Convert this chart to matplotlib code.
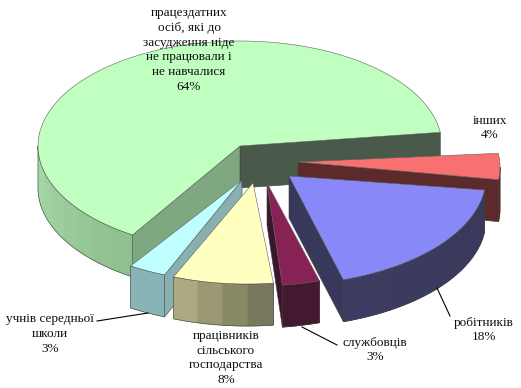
import numpy as np
import matplotlib
matplotlib.use("Agg")
import matplotlib.pyplot as plt
from matplotlib.colors import to_rgb
from matplotlib.patches import Polygon

# Data, counter-clockwise from the right edge of the big slice
labels = [
    "працездатних\nосіб, які до\nзасудження ніде\nне працювали і\nне навчалися\n64%",
    "учнів середньої\nшколи\n3%",
    "працівників\nсільського\nгосподарства\n8%",
    "службовців\n3%",
    "робітників\n18%",
    "інших\n4%",
]
shares = [64, 3, 8, 3, 18, 4]

# Slice styles, same order
top_colors = ["#C0FFC0", "#C0FFFF", "#FFFFC0", "#882255", "#8888F8", "#F87070"]
side_left = ["#A8D8A8", "#88B4B8", "#ABAA80", "#44182E", "#3C3C62", "#5C2A2A"]
side_right = ["#8FC090", "#8AB0B0", "#78785C", "#44182E", "#38385A", "#5C2A2A"]
face_start = ["#4A5A4A", "#80A8A8", "#ABAA80", "#3C142C", "#38385A", "#5C2A2A"]
face_end = ["#80A880", "#88B0B0", "#ABAA80", "#44182E", "#38385A", "#5C2A2A"]
centers = [(240, 146), (238, 177), (247, 179), (256, 181), (278, 177), (298, 167)]
apexes = [(240, 146), (242, 180), (253, 183), (267, 183), (289, 176), (298, 162)]
scales = [1.0, 1.0, 1.0, 1.0, 1.03, 1.0]
label_xy = [(189, 50), (50, 334), (226, 358), (375, 350), (484, 330), (490, 128)]

RX = 202
RY = 105
DEPTH = 42
START_ANGLE = 7.5
BAND_DEG = 7
EDGE = "#404040"

# Leader lines: (x0, x1), (y0, y1)
leaders = [((97, 148), (321, 313)), ((302, 337), (327, 345)), ((437, 450), (288, 316))]


def mix(c0, c1, f):
    return np.array(to_rgb(c0)) * (1 - f) + np.array(to_rgb(c1)) * f


def rim(i, theta):
    t = np.radians(theta)
    cx, cy = centers[i]
    return np.column_stack((cx + scales[i] * RX * np.cos(t), cy - scales[i] * RY * np.sin(t)))


def draw_face(ax, apex, point, color):
    quad = [apex, point, (point[0], point[1] + DEPTH), (apex[0], apex[1] + DEPTH)]
    ax.add_patch(Polygon(quad, closed=True, fc=color, ec=EDGE, lw=0.4))


def draw_slice(ax, i, t1, t2):
    apex = apexes[i]
    p1 = rim(i, np.array([t1]))[0]
    p2 = rim(i, np.array([t2]))[0]

    # cut faces, only those turned to the viewer
    if np.cos(np.radians(t1)) > 0:
        draw_face(ax, apex, p1, face_start[i])
    if np.cos(np.radians(t2)) < 0:
        draw_face(ax, apex, p2, face_end[i])

    # outer wall in flat bands, front half only
    lo, hi = max(t1, 180), min(t2, 360)
    if hi > lo:
        n = max(1, int((hi - lo) / BAND_DEG))
        edges = np.linspace(lo, hi, n + 1)
        for k in range(n):
            arc = rim(i, np.linspace(edges[k], edges[k + 1], 6))
            wall = np.vstack((arc, arc[::-1] + [0, DEPTH]))
            col = mix(side_left[i], side_right[i], k / max(1, n - 1))
            ax.add_patch(Polygon(wall, closed=True, fc=col, ec=col, lw=0.6))
        arc = rim(i, np.linspace(lo, hi, 80))
        outline = np.vstack((arc, arc[::-1] + [0, DEPTH]))
        ax.add_patch(Polygon(outline, closed=True, fill=False, ec=EDGE, lw=0.4))

    # top
    arc = rim(i, np.linspace(t1, t2, 150))
    top = np.vstack(([apex], arc))
    ax.add_patch(Polygon(top, closed=True, fc=top_colors[i], ec="#606060", lw=0.4))


fig = plt.figure(figsize=(5.21, 3.88), dpi=100)
ax = fig.add_axes([0, 0, 1, 1])
ax.set_xlim(0, 521)
ax.set_ylim(388, 0)
ax.axis("off")

angles = START_ANGLE + np.concatenate(([0], np.cumsum(shares))) * 3.6
for i in [0, 5, 4, 3, 1, 2]:
    draw_slice(ax, i, angles[i], angles[i + 1])

for xs, ys in leaders:
    ax.plot(xs, ys, color="black", lw=0.8)

for text, (x, y) in zip(labels, label_xy):
    ax.text(x, y, text, family="Liberation Serif", fontsize=9.5, color="#101010",
            ha="center", va="center", linespacing=1.33)

fig.savefig("out.png", dpi=100)
